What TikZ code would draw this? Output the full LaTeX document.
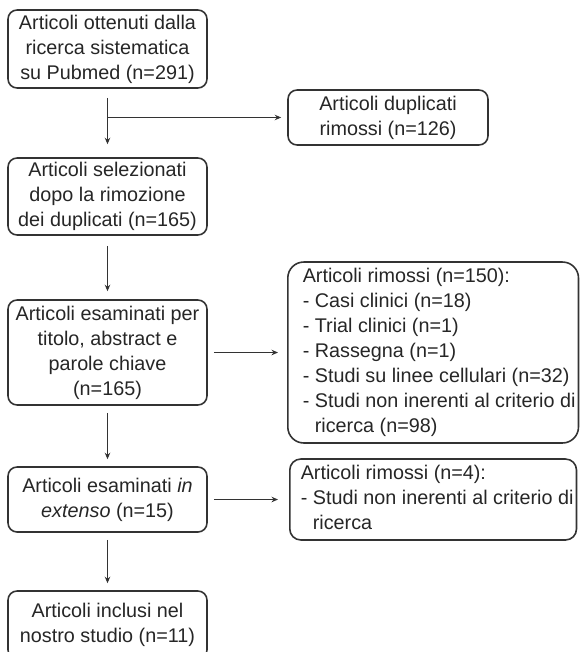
\documentclass[tikz,border=0pt]{standalone}
\usepackage{fontspec}
\setmainfont{Liberation Sans}
\usetikzlibrary{arrows.meta}

% left aligned list with an indent on the left only
\newcommand{\leftlist}[2]{\begin{tabular}{@{\hspace{#1}}l@{}}#2\end{tabular}}

\begin{document}
\begin{tikzpicture}[
  x=0.02cm, y=-0.02cm,
  box/.style={draw=black!80, line width=0.9pt, rounded corners=0.18cm, text=black!85,
    font=\fontsize{11.26}{14.2}\selectfont, align=center, inner sep=0pt},
  mainbox/.style={box, minimum width=3.98cm},
  sidebox/.style={box, align=left, anchor=west, inner xsep=0.06cm},
  flow/.style={draw=black!80, line width=0.9pt, -{Stealth[length=0.13cm, width=0.11cm]},
    shorten <=0.14cm, shorten >=0.14cm}
]
  % frame of the original figure (pixel units, y downwards)
  \useasboundingbox (0,0) rectangle (579,652);

  % main column of the selection
  \node[mainbox, minimum height=1.56cm] (search) at (107.5,49)
    {Articoli ottenuti dalla\\ricerca sistematica\\su Pubmed (n=291)};
  \node[mainbox, minimum height=1.54cm] (selected) at (107.5,196.5)
    {Articoli selezionati\\dopo la rimozione\\dei duplicati (n=165)};
  \node[mainbox, minimum height=2.1cm] (screened) at (107.5,352.5)
    {Articoli esaminati per\\titolo, abstract e\\parole chiave\\(n=165)};
  \node[mainbox, minimum height=1.3cm] (fulltext) at (107.5,499.5)
    {Articoli esaminati \textit{in}\\\textit{extenso} (n=15)};
  \node[mainbox, minimum height=1.36cm] (included) at (107.5,625)
    {Articoli inclusi nel\\nostro studio (n=11)};

  % excluded articles on the right
  \node[box, minimum width=4cm, minimum height=1.1cm] (dupl) at (388,117.5)
    {Articoli duplicati\\rimossi (n=126)};
  \node[sidebox, rounded corners=0.32cm, minimum height=3.62cm] (removed) at (287,352.5)
    {\leftlist{0.24cm}{Articoli rimossi (n=150):\\- Casi clinici (n=18)\\- Trial clinici (n=1)\\
     - Rassegna (n=1)\\- Studi su linee cellulari (n=32)\\- Studi non inerenti al criterio di\\
     \phantom{- }ricerca (n=98)}};
  \node[sidebox, rounded corners=0.22cm, minimum height=1.62cm] (removedft) at (289,499.5)
    {\leftlist{0.16cm}{Articoli rimossi (n=4):\\- Studi non inerenti al criterio di\\\phantom{- }ricerca}};

  % branch towards the duplicates
  \coordinate (split) at (search |- dupl);

  % connectors
  \draw[flow, shorten <=0.18cm, shorten >=0.26cm] (search) -- (selected);
  \draw[flow, shorten <=0pt, shorten >=0.12cm] (split) -- (dupl);
  \draw[flow, shorten <=0.2cm, shorten >=0.16cm] (selected) -- (screened);
  \draw[flow, shorten <=0.12cm, shorten >=0.18cm] (screened) -- (removed);
  \draw[flow] (screened) -- (fulltext);
  \draw[flow, shorten <=0.12cm, shorten >=0.22cm] (fulltext) -- (removedft);
  \draw[flow] (fulltext) -- (included);

\end{tikzpicture}
\end{document}
